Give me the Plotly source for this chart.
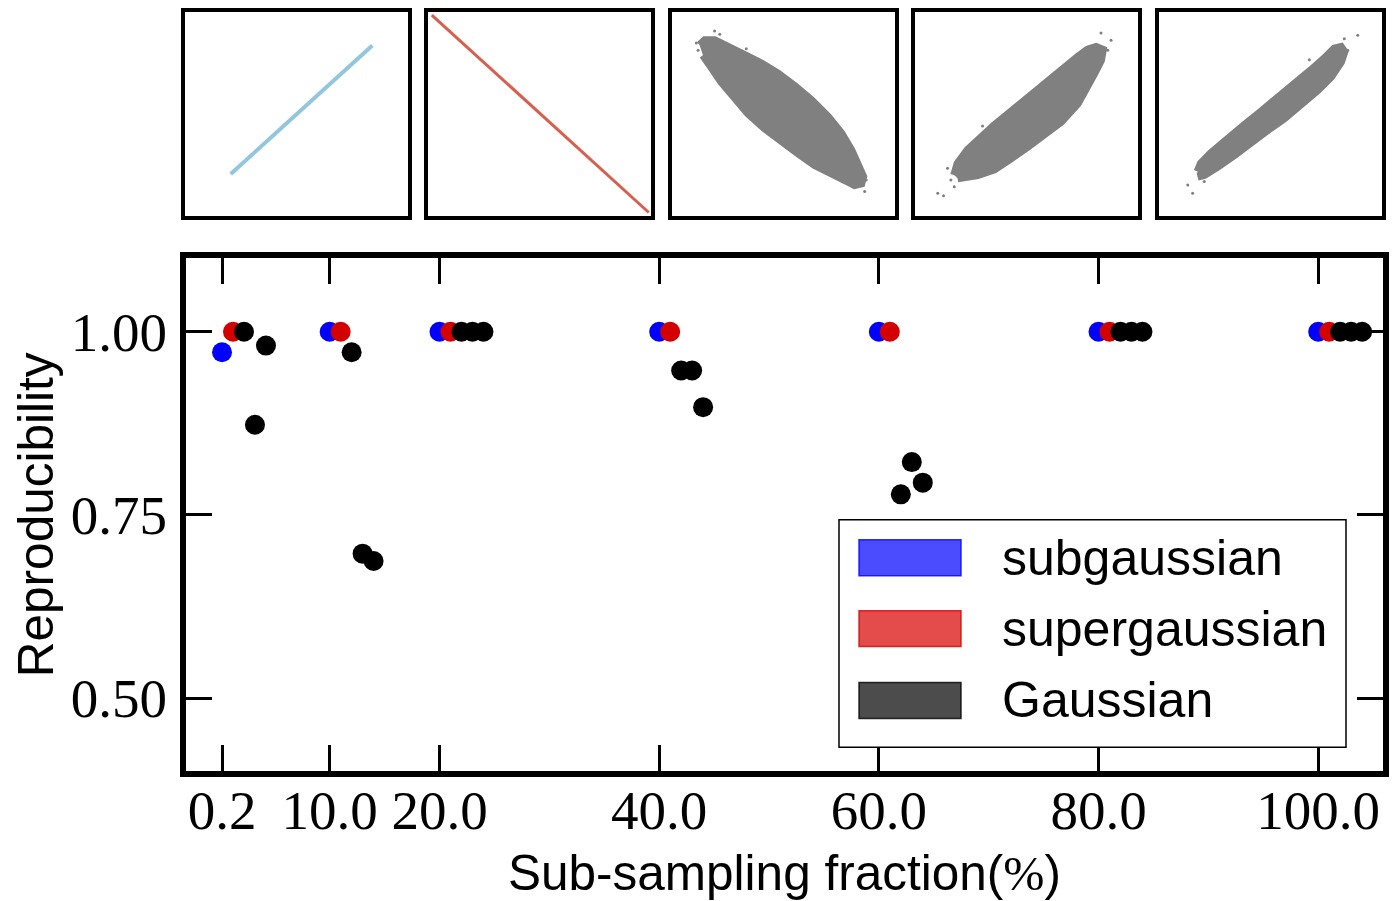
import plotly.graph_objects as go

# ---------------- data ----------------
fractions = [0.2, 10.0, 20.0, 40.0, 60.0, 80.0, 100.0]
tick_labels = ["0.2", "10.0", "20.0", "40.0", "60.0", "80.0", "100.0"]
subgaussian = [0.972, 1.0, 1.0, 1.0, 1.0, 1.0, 1.0]
supergaussian = [1.0, 1.0, 1.0, 1.0, 1.0, 1.0, 1.0]
gaussian = [
    [1.0, 0.873, 0.981],
    [0.972, 0.697, 0.687],
    [1.0, 1.0, 1.0],
    [0.947, 0.947, 0.897],
    [0.778, 0.822, 0.794],
    [1.0, 1.0, 1.0],
    [1.0, 1.0, 1.0],
]
y_ticks = [0.50, 0.75, 1.00]
y_tick_labels = ["0.50", "0.75", "1.00"]

# inset panels (normalised coordinates)
inset1_x = [0.205, 0.84]
inset1_y = [0.204, 0.835]
inset2_x = [0.017, 0.99]
inset2_y = [0.985, 0.015]
inset3_x = [0.124, 0.147, 0.191, 0.251, 0.326, 0.401, 0.475, 0.550, 0.625, 0.700, 0.759, 0.804, 0.834, 0.857,
            0.849, 0.819, 0.774, 0.714, 0.640, 0.565, 0.490, 0.416, 0.341, 0.274, 0.221, 0.176, 0.139]
inset3_y = [0.837, 0.861, 0.861, 0.832, 0.788, 0.747, 0.698, 0.636, 0.567, 0.485, 0.404, 0.322, 0.256, 0.191,
            0.158, 0.150, 0.175, 0.207, 0.248, 0.306, 0.363, 0.428, 0.501, 0.587, 0.657, 0.730, 0.788]
inset4_x = [0.176, 0.191, 0.236, 0.281, 0.356, 0.430, 0.505, 0.580, 0.655, 0.730, 0.774, 0.812, 0.842,
            0.834, 0.804, 0.774, 0.730, 0.655, 0.580, 0.505, 0.430, 0.356, 0.281, 0.221, 0.191]
inset4_y = [0.199, 0.256, 0.322, 0.371, 0.444, 0.510, 0.580, 0.645, 0.717, 0.779, 0.815, 0.828, 0.815,
            0.763, 0.698, 0.632, 0.551, 0.461, 0.395, 0.338, 0.281, 0.227, 0.199, 0.183, 0.183]
inset5_x = [0.173, 0.188, 0.233, 0.308, 0.383, 0.457, 0.532, 0.607, 0.682, 0.741, 0.786, 0.816, 0.831,
            0.816, 0.771, 0.712, 0.637, 0.562, 0.487, 0.413, 0.338, 0.263, 0.203, 0.173]
inset5_y = [0.216, 0.256, 0.306, 0.379, 0.444, 0.510, 0.575, 0.641, 0.714, 0.771, 0.820, 0.828, 0.804,
            0.755, 0.681, 0.616, 0.543, 0.477, 0.420, 0.354, 0.297, 0.240, 0.199, 0.191]
# stray points around the clouds
stray3_x = [0.191, 0.214, 0.109, 0.117, 0.468, 0.333, 0.864, 0.842, 0.81, 0.765, 0.388, 0.871]
stray3_y = [0.907, 0.891, 0.848, 0.812, 0.714, 0.820, 0.118, 0.207, 0.141, 0.167, 0.461, 0.175]
stray4_x = [0.102, 0.128, 0.146, 0.161, 0.303, 0.834, 0.879, 0.864, 0.782, 0.176]
stray4_y = [0.109, 0.097, 0.232, 0.175, 0.440, 0.897, 0.861, 0.812, 0.673, 0.142]
stray5_x = [0.129, 0.151, 0.891, 0.831, 0.846, 0.674, 0.286, 0.203, 0.809]
stray5_y = [0.150, 0.109, 0.886, 0.869, 0.812, 0.766, 0.371, 0.167, 0.739]

legend_names = ["subgaussian", "supergaussian", "Gaussian"]

# ---------------- styling ----------------
OFF = 8                       # default page margin of the html body
W, H = 1397 - OFF, 901 - OFF
BLUE = "#0000ff"
RED = "#d40000"
BLACK = "#000000"
GREY = "#808080"
SANS = "Liberation Sans, Arial, sans-serif"
SERIF = "Liberation Serif, Times New Roman, serif"


def px(x):
    return (x - OFF) / W


def py(y):
    return 1 - (y - OFF) / H


fig = go.Figure()

# main scatter: offsets within each group
sub_x = [f for f in fractions]
sup_x = [f + 1 for f in fractions]
g_x, g_y = [], []
for f, vals in zip(fractions, gaussian):
    for k, v in enumerate(vals):
        g_x.append(f + 2 + k)
        g_y.append(v)

fig.add_trace(go.Scatter(x=sub_x, y=subgaussian, mode="markers", name=legend_names[0],
                         marker=dict(color=BLUE, size=20, line=dict(width=0)), showlegend=False))
fig.add_trace(go.Scatter(x=sup_x, y=supergaussian, mode="markers", name=legend_names[1],
                         marker=dict(color=RED, size=20, line=dict(width=0)), showlegend=False))
fig.add_trace(go.Scatter(x=g_x, y=g_y, mode="markers", name=legend_names[2],
                         marker=dict(color=BLACK, size=20, line=dict(width=0)), showlegend=False))

# insets
fig.add_trace(go.Scatter(x=inset1_x, y=inset1_y, mode="lines", line=dict(color="#92c5de", width=4),
                         xaxis="x2", yaxis="y2", showlegend=False, hoverinfo="skip"))
fig.add_trace(go.Scatter(x=inset2_x, y=inset2_y, mode="lines", line=dict(color="#d6604d", width=3),
                         xaxis="x3", yaxis="y3", showlegend=False, hoverinfo="skip"))
clouds = [(inset3_x, inset3_y, stray3_x, stray3_y),
          (inset4_x, inset4_y, stray4_x, stray4_y),
          (inset5_x, inset5_y, stray5_x, stray5_y)]
for i, (xs, ys, sx, sy) in enumerate(clouds):
    fig.add_trace(go.Scatter(x=xs, y=ys, mode="lines", fill="toself", fillcolor=GREY,
                             line=dict(color=GREY, width=8),
                             xaxis=f"x{4 + i}", yaxis=f"y{4 + i}", showlegend=False, hoverinfo="skip"))
    fig.add_trace(go.Scatter(x=sx, y=sy, mode="markers", marker=dict(color=GREY, size=3),
                             xaxis=f"x{4 + i}", yaxis=f"y{4 + i}", showlegend=False, hoverinfo="skip"))

# main axes
x0_px, x1_px, y0_px, y1_px = 186, 1383, 257, 771
layout = dict(
    width=W, height=H,
    margin=dict(l=0, r=0, t=0, b=0),
    paper_bgcolor="white", plot_bgcolor="white",
    showlegend=False,
    xaxis=dict(domain=[px(x0_px), px(x1_px)], range=[-3.08, 105.9],
               tickvals=fractions, ticktext=tick_labels,
               ticks="inside", ticklen=26, tickwidth=3, tickcolor="black",
               showline=True, linewidth=6, linecolor="black", mirror="allticks",
               showgrid=False, zeroline=False, automargin=False,
               ticklabelstandoff=-14,
               tickfont=dict(family=SERIF, size=55, color="black")),
    yaxis=dict(domain=[py(y1_px), py(y0_px)], range=[0.4, 1.1],
               tickvals=y_ticks, ticktext=y_tick_labels,
               ticks="inside", ticklen=26, tickwidth=3, tickcolor="black",
               showline=True, linewidth=6, linecolor="black", mirror="allticks",
               showgrid=False, zeroline=False, automargin=False,
               ticklabelstandoff=2,
               tickfont=dict(family=SERIF, size=55, color="black"),
               title=dict(text="Reproducibility", font=dict(family=SANS, size=49.5, color="black"), standoff=13)),
)

inset_boxes = [(185, 408), (428, 651), (672, 895), (915, 1138), (1159, 1382)]
for i, (a, b) in enumerate(inset_boxes):
    n = i + 2
    common = dict(showline=True, linewidth=4, linecolor="black", mirror=True,
                  showticklabels=False, ticks="", showgrid=False, zeroline=False,
                  range=[0, 1], fixedrange=True)
    layout[f"xaxis{n}"] = dict(domain=[px(a), px(b)], anchor=f"y{n}", **common)
    layout[f"yaxis{n}"] = dict(domain=[py(214), py(10)], anchor=f"x{n}", **common)

fig.update_layout(**layout)

# manual legend with rectangular patches
shapes = [dict(type="rect", xref="paper", yref="paper",
               x0=px(839), x1=px(1346), y0=py(747), y1=py(519),
               line=dict(color="black", width=1.5), fillcolor="white", layer="above")]
patch_fill = ["rgba(0,0,255,0.7)", "rgba(216,0,0,0.7)", "rgba(0,0,0,0.7)"]
patch_line = ["rgba(0,0,255,0.8)", "rgba(216,0,0,0.8)", "rgba(0,0,0,0.8)"]
rows = [557, 628, 700]
annotations = []
for name, fc, lc, yc in zip(legend_names, patch_fill, patch_line, rows):
    shapes.append(dict(type="rect", xref="paper", yref="paper",
                       x0=px(859), x1=px(961), y0=py(yc + 18), y1=py(yc - 18),
                       line=dict(color=lc, width=1.5), fillcolor=fc, layer="above"))
    annotations.append(dict(xref="paper", yref="paper", x=px(1000), y=py(yc),
                            xanchor="left", yanchor="middle", text=name, showarrow=False,
                            font=dict(family=SANS, size=50, color="black")))

# x-axis title
annotations.append(dict(xref="paper", yref="paper", x=px(784), y=py(873),
                        xanchor="center", yanchor="middle", showarrow=False,
                        text="Sub-sampling fraction(<span style='font-family:Liberation Serif'>%</span>)",
                        font=dict(family=SANS, size=49.5, color="black")))
fig.update_layout(shapes=shapes, annotations=annotations)

fig.write_html("out.html")
